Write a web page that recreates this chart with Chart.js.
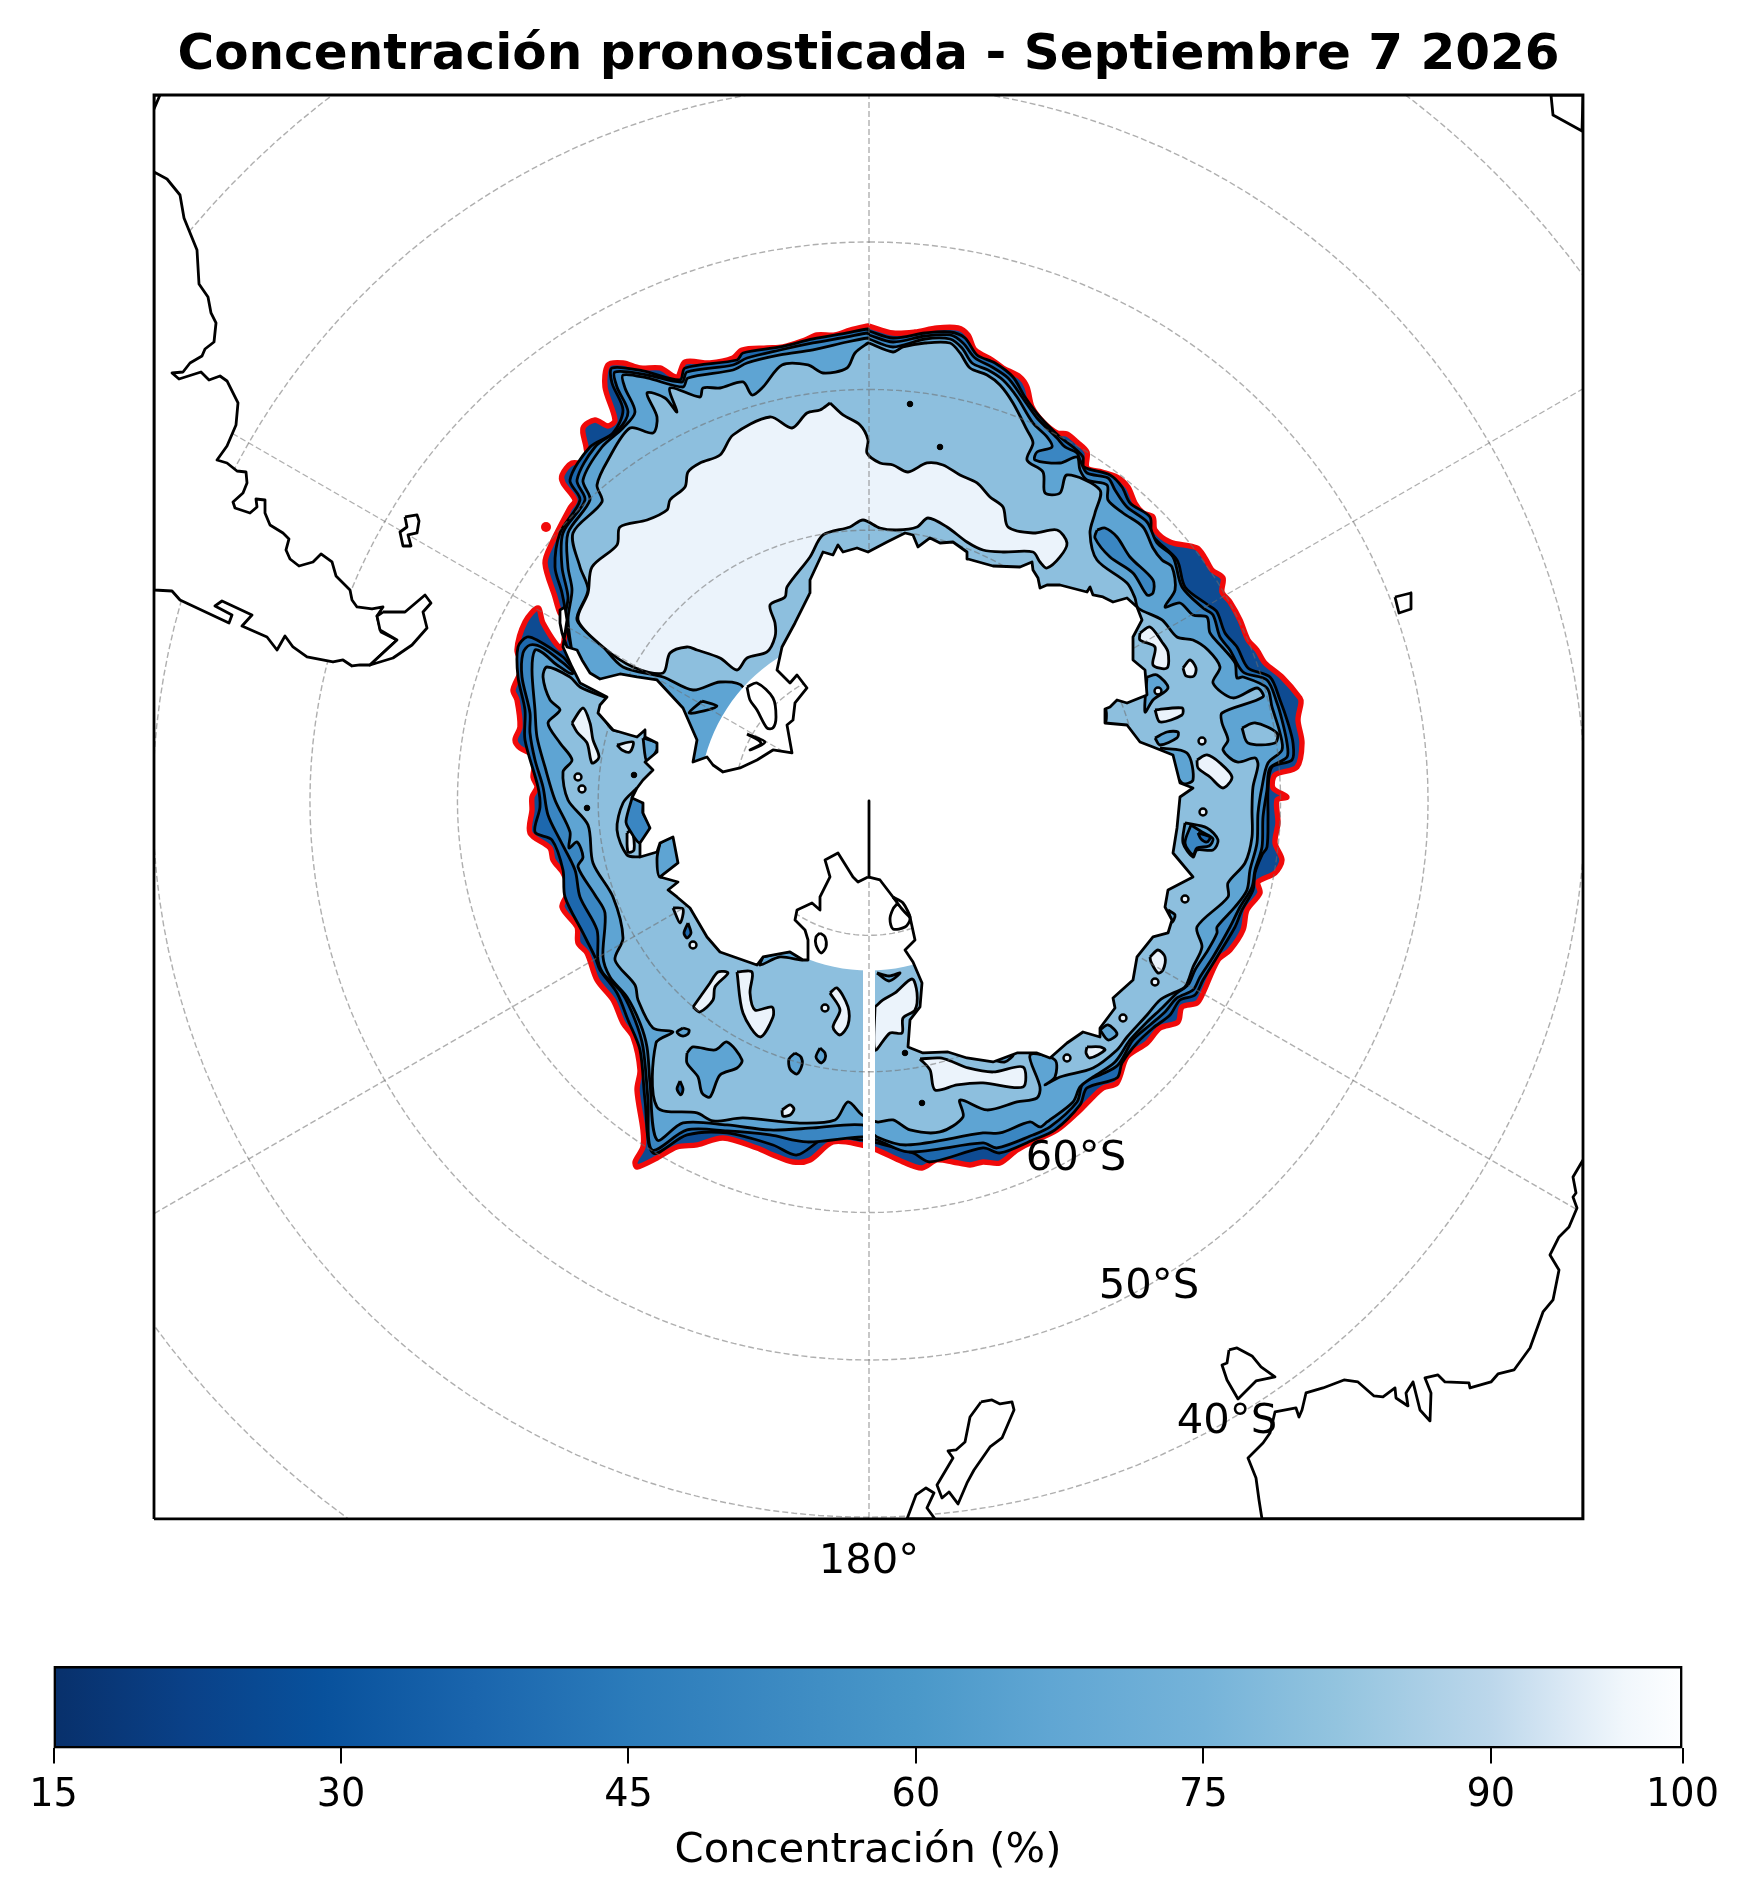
<!DOCTYPE html>
<html>
<head>
<meta charset="utf-8">
<title>Concentración pronosticada</title>
<script src="https://cdn.jsdelivr.net/npm/chart.js@4"></script>
<style>
body { margin: 0; background: #fff; }
canvas { position: absolute; left: 0; }
#mapChart { top: 0; }
#barChart { top: 1640px; }
</style>
</head>
<body>
<canvas id="mapChart" width="1747" height="1640"></canvas>
<canvas id="barChart" width="1747" height="261"></canvas>
<script>
// map units: pole at 0,0 , polar stereographic, x right, y up
var mapX = [-715, 714];
var mapY = [-718, 706];
var gridLats = [30, 40, 50, 60, 70, 80];
var gridLons = [0, 60, 120, 180, 240, 300];
var noDataLat = 77.4;
var latLabels = ["60°S", "50°S", "40°S"];
var latLabelX = [207, 280, 358];
var latLabelY = [-358, -486, -621];
var bottomLabel = "180°";

var cbTicks = [15, 30, 45, 60, 75, 90, 100];
var cbStops = [15, 22, 29, 37, 45, 52, 60, 67, 75, 82, 90, 94, 97, 100];
var cbColors = ["#08306b", "#0a4188", "#08519c", "#1a65ad", "#2b7bba", "#3a88c1", "#4a98c9", "#60a6d3", "#75b3d9", "#93c4df", "#bcd7eb", "#dbe9f5", "#f1f7fc", "#fdfeff"];

// ice edge, 15 %
var ice15 = [[0,475],[24,468],[46,469],[68,473],[89,473],[99,466],[106,451],[123,441],[134,433],[151,424],[158,414],[163,394],[174,379],[188,368],[198,367],[208,359],[218,349],[218,333],[233,329],[248,324],[259,314],[266,298],[274,288],[284,284],[286,271],[301,259],[328,253],[336,243],[343,231],[354,223],[353,209],[361,199],[371,181],[379,161],[388,151],[396,138],[413,124],[431,103],[432,98],[429,81],[433,58],[428,34],[406,26],[404,13],[418,4],[408,1],[409,-22],[406,-42],[413,-59],[406,-72],[389,-81],[391,-92],[378,-109],[374,-129],[361,-149],[349,-159],[334,-192],[328,-202],[313,-206],[309,-221],[291,-227],[278,-242],[258,-256],[248,-282],[234,-287],[221,-299],[208,-312],[188,-329],[161,-342],[148,-349],[131,-362],[114,-361],[101,-364],[84,-361],[68,-359],[53,-367],[34,-361],[8,-349],[-7,-344],[-36,-341],[-59,-359],[-76,-361],[-96,-354],[-112,-347],[-146,-337],[-172,-344],[-192,-346],[-212,-357],[-232,-366],[-234,-361],[-226,-346],[-226,-329],[-232,-289],[-229,-269],[-236,-236],[-246,-222],[-256,-199],[-272,-179],[-282,-152],[-291,-142],[-292,-126],[-307,-106],[-300,-89],[-306,-72],[-316,-59],[-319,-47],[-339,-32],[-337,-9],[-337,4],[-332,14],[-336,24],[-334,44],[-349,53],[-354,61],[-349,74],[-352,101],[-356,111],[-347,134],[-352,151],[-344,179],[-331,193],[-326,178],[-309,153],[-305,160],[-305,185],[-309,188],[-314,204],[-324,238],[-317,258],[-299,293],[-294,301],[-306,318],[-307,326],[-297,338],[-282,338],[-283,354],[-286,373],[-274,381],[-261,375],[-254,381],[-264,414],[-261,436],[-246,438],[-229,433],[-209,433],[-192,424],[-184,439],[-159,438],[-136,443],[-127,451],[-102,453],[-86,454],[-64,461],[-52,466],[-34,466],[-19,471],[-1,475]];
var ice30 = [[0,470],[24,463],[56,468],[81,469],[96,463],[108,446],[126,438],[144,424],[156,404],[171,384],[191,364],[204,354],[214,344],[215,334],[241,326],[253,314],[261,298],[281,284],[283,266],[308,241],[316,214],[339,196],[348,189],[356,168],[368,154],[379,133],[401,124],[411,101],[419,78],[424,58],[423,41],[403,34],[399,11],[399,-16],[398,-46],[393,-54],[386,-72],[384,-89],[373,-109],[366,-126],[348,-156],[334,-179],[326,-194],[311,-199],[301,-214],[284,-227],[268,-242],[253,-262],[248,-277],[218,-287],[211,-304],[186,-329],[164,-339],[131,-352],[114,-347],[61,-361],[44,-352],[8,-342],[-7,-339],[-42,-336],[-72,-354],[-96,-344],[-142,-332],[-182,-334],[-216,-352],[-224,-299],[-229,-249],[-241,-219],[-252,-192],[-269,-169],[-274,-156],[-286,-132],[-304,-96],[-306,-69],[-317,-39],[-334,-31],[-329,-6],[-331,14],[-344,61],[-344,91],[-351,124],[-351,154],[-342,164],[-332,161],[-306,144],[-294,131],[-300,170],[-307,208],[-314,234],[-309,268],[-289,301],[-299,321],[-279,354],[-256,368],[-246,391],[-257,418],[-257,433],[-226,430],[-189,421],[-184,433],[-132,441],[-126,448],[-89,454],[-56,462],[-22,468],[-1,472]];
var ice45 = [[0,466],[24,459],[56,465],[81,466],[94,458],[106,443],[123,434],[139,423],[153,404],[168,383],[188,363],[196,354],[208,348],[211,341],[218,328],[239,323],[246,311],[258,294],[278,279],[288,258],[304,244],[313,214],[334,193],[344,186],[351,164],[361,151],[374,129],[398,121],[408,98],[413,81],[418,58],[418,44],[401,33],[398,11],[394,-16],[393,-46],[386,-69],[383,-86],[371,-106],[361,-126],[344,-156],[331,-176],[324,-189],[308,-197],[296,-211],[281,-224],[264,-239],[249,-264],[231,-274],[214,-282],[208,-301],[181,-326],[164,-334],[128,-347],[114,-342],[39,-351],[8,-339],[-7,-336],[-62,-341],[-99,-334],[-142,-330],[-182,-329],[-217,-349],[-221,-299],[-226,-246],[-234,-219],[-247,-192],[-266,-172],[-271,-159],[-272,-129],[-289,-96],[-294,-69],[-309,-39],[-321,-14],[-326,14],[-334,41],[-339,68],[-339,88],[-347,124],[-346,148],[-339,156],[-326,153],[-306,138],[-292,128],[-304,181],[-301,204],[-307,234],[-306,268],[-284,301],[-292,321],[-274,354],[-251,371],[-241,389],[-252,414],[-254,429],[-222,426],[-187,419],[-182,429],[-136,436],[-122,443],[-89,451],[-56,458],[-22,464],[-1,468]];
var ice60 = [[0,462],[24,454],[56,462],[81,462],[93,453],[103,438],[119,431],[134,421],[148,404],[164,378],[178,364],[183,354],[168,349],[166,341],[191,338],[208,344],[211,331],[218,321],[238,316],[239,301],[254,288],[274,274],[284,253],[293,241],[303,234],[306,211],[296,194],[311,198],[324,186],[338,184],[341,168],[353,154],[366,138],[368,123],[374,124],[398,113],[403,94],[411,68],[413,51],[399,38],[393,14],[389,-12],[388,-42],[381,-69],[378,-89],[366,-106],[348,-126],[348,-132],[339,-149],[326,-169],[319,-184],[308,-192],[293,-207],[278,-221],[261,-239],[246,-261],[224,-276],[211,-286],[204,-301],[178,-321],[171,-326],[161,-321],[131,-332],[114,-332],[38,-344],[8,-336],[-7,-324],[-56,-327],[-99,-329],[-142,-324],[-186,-322],[-212,-339],[-219,-282],[-222,-246],[-229,-222],[-242,-196],[-259,-176],[-266,-156],[-264,-112],[-274,-94],[-291,-66],[-286,-56],[-292,-41],[-300,-47],[-299,-31],[-314,1],[-324,34],[-332,64],[-334,91],[-337,131],[-334,151],[-326,148],[-312,136],[-296,128],[-301,181],[-297,211],[-301,234],[-301,268],[-279,301],[-286,321],[-267,354],[-246,373],[-234,389],[-244,413],[-246,426],[-222,423],[-186,414],[-181,423],[-136,431],[-122,438],[-89,446],[-56,451],[-22,459],[-1,463]];
var ice75 = [[0,458],[24,449],[34,454],[56,458],[81,458],[91,448],[101,433],[118,426],[131,416],[144,398],[158,371],[164,358],[158,341],[174,329],[176,308],[191,308],[198,326],[231,311],[226,288],[221,268],[228,241],[258,218],[266,203],[269,193],[293,181],[308,164],[324,161],[339,151],[351,134],[344,118],[364,103],[388,113],[394,104],[353,88],[353,78],[359,61],[354,51],[368,39],[386,43],[389,36],[384,14],[383,-9],[383,-36],[376,-62],[359,-82],[359,-96],[328,-126],[333,-146],[324,-166],[316,-186],[304,-192],[291,-199],[278,-214],[258,-236],[248,-249],[224,-267],[191,-276],[176,-284],[186,-276],[186,-259],[161,-254],[171,-286],[168,-297],[148,-301],[118,-309],[91,-299],[94,-316],[71,-331],[41,-329],[24,-319],[8,-321],[-7,-314],[-21,-301],[-34,-319],[-72,-322],[-126,-317],[-156,-320],[-172,-312],[-212,-306],[-213,-242],[-196,-231],[-216,-227],[-231,-199],[-234,-184],[-254,-159],[-246,-137],[-256,-96],[-276,-62],[-281,-24],[-301,1],[-306,29],[-297,41],[-309,58],[-321,78],[-309,91],[-319,101],[-326,124],[-322,134],[-299,124],[-289,114],[-262,103],[-240,95],[-200,70],[-178,30],[-130,30],[-110,60],[-126,114],[-149,119],[-176,111],[-206,124],[-246,134],[-269,158],[-292,181],[-281,211],[-289,234],[-296,268],[-267,299],[-272,316],[-261,341],[-239,373],[-216,368],[-212,384],[-222,408],[-204,403],[-192,389],[-199,413],[-169,404],[-166,413],[-149,413],[-126,419],[-117,406],[-106,414],[-87,436],[-61,436],[-46,428],[-22,433],[-14,448],[-1,458]];
var ice90 = [[-39,398],[-26,386],[-9,376],[-1,361],[-2,348],[11,338],[24,336],[39,329],[58,338],[74,336],[91,326],[108,318],[121,304],[134,294],[139,274],[164,268],[188,271],[198,258],[191,244],[178,233],[171,239],[164,249],[134,249],[114,251],[98,259],[78,274],[59,283],[48,274],[28,271],[11,273],[-6,281],[-19,274],[-46,266],[-59,244],[-82,214],[-84,204],[-99,196],[-94,178],[-94,164],[-102,149],[-122,143],[-132,131],[-149,143],[-172,151],[-182,154],[-199,148],[-206,128],[-236,134],[-266,154],[-291,181],[-281,208],[-277,234],[-252,256],[-249,274],[-222,281],[-202,291],[-199,301],[-184,314],[-181,329],[-169,338],[-149,346],[-136,366],[-99,384],[-77,373],[-62,388],[-49,391],[-39,398]];

// closed patches inside the bands
var high1 = [[271,168],[281,174],[293,159],[299,149],[298,133],[284,136],[286,154],[271,161]];
var high2 = [[286,91],[313,93],[313,86],[291,79]];
var high3 = [[328,41],[338,46],[351,38],[363,24],[354,13],[341,24],[329,33]];
var high4 = [[281,-156],[289,-149],[296,-156],[294,-169],[289,-172],[282,-161]];
var high5 = [[218,-246],[231,-246],[236,-249],[221,-257],[217,-252]];
var high6 = [[51,-258],[71,-257],[84,-261],[99,-267],[124,-271],[154,-266],[154,-286],[114,-282],[88,-284],[66,-289],[61,-269]];
var high7 = [[-297,78],[-286,93],[-279,78],[-276,61],[-270,44],[-277,38],[-282,58],[-292,69]];
var high8 = [[-252,56],[-236,59],[-239,49],[-247,51]];
var high9 = [[-242,-32],[-237,-29],[-235,-49],[-241,-51]];
var high10 = [[-176,-206],[-159,-182],[-151,-171],[-141,-172],[-154,-186],[-156,-199],[-169,-211]];
var high11 = [[-132,-171],[-117,-171],[-119,-192],[-114,-209],[-97,-206],[-96,-216],[-109,-236],[-126,-212]];
var high12 = [[-39,-192],[-32,-187],[-21,-206],[-21,-224],[-29,-234],[-36,-226],[-29,-209]];
var high13 = [[6,-206],[14,-199],[26,-192],[43,-178],[48,-192],[46,-209],[34,-217],[33,-232],[21,-232],[6,-249]];
var high14 = [[-196,-107],[-186,-108],[-189,-122]];
var high15 = [[-87,-309],[-79,-304],[-75,-308],[-79,-314],[-86,-315]];
var high16 = [[314,133],[321,141],[327,133],[325,125],[317,125]];
var light1 = [[373,73],[386,78],[408,68],[406,58],[379,58]];
var mid1 = [[286,63],[298,69],[309,69],[308,63],[291,56]];
var mid2 = [[278,124],[288,126],[299,113],[284,101],[276,89]];
var mid3 = [[291,53],[318,48],[324,21],[313,18]];
var mid4 = [[316,-22],[338,-27],[349,-39],[344,-49],[328,-49],[324,-56],[314,-42]];
var mid5 = [[299,-109],[306,-114],[303,-121]];
var mid6 = [[231,-229],[239,-224],[248,-233],[239,-239]];
var mid7 = [[-106,-156],[-79,-151],[-67,-159],[-89,-156],[-109,-164]];
var mid8 = [[-209,-42],[-196,-36],[-191,-62],[-209,-76],[-212,-58]];
var mid9 = [[-269,91],[-243,71],[-256,71],[-264,81]];
var mid10 = [[-226,63],[-212,58],[-212,51],[-222,39]];
var mid11 = [[-182,-252],[-176,-246],[-154,-249],[-142,-241],[-127,-259],[-132,-267],[-149,-274],[-159,-296],[-167,-292],[-171,-276],[-182,-262]];
var mid12 = [[-74,-252],[-68,-256],[-67,-264],[-72,-273],[-79,-268],[-80,-258]];
var mid13 = [[-49,-247],[-44,-252],[-44,-258],[-48,-262],[-53,-256]];
var mid14 = [[-186,-227],[-180,-229],[-181,-233],[-187,-235],[-192,-231]];
var mid15 = [[124,-259],[144,-254],[136,-261]];
var mid16 = [[-167,100],[-152,95],[-165,90],[-180,88]];
var mid17 = [[8,-172],[20,-175],[31,-172],[20,-180]];
var mid18 = [[224,88],[236,93],[236,77],[226,78]];
var deep1 = [[228,271],[236,273],[248,264],[261,244],[284,221],[284,208],[278,206],[264,228],[241,244],[226,263]];
var deep2 = [[322,-24],[333,-31],[344,-38],[340,-45],[328,-47],[324,-54],[316,-42]];
var deep3 = [[-236,6],[-226,-2],[-226,-12],[-219,-27],[-229,-42],[-240,-28],[-243,-20]];
var dark1 = [[329,-32],[341,-36],[338,-41],[332,-38]];
var dark2 = [[-181,-122],[-178,-132],[-182,-137],[-185,-132]];
var dark3 = [[-189,-280],[-186,-288],[-188,-294],[-192,-288]];
var contourOnly = [[-232,13],[-246,-2],[-252,-29],[-242,-54],[-229,-56]];

// small closed contours too small to trace
var smallHighX = [-291, -287, -176, 333, 334, 316, 286, 254, 289, -44, 198];
var smallHighY = [24, 12, -144, 60, -11, -98, -181, -217, 110, -207, -257];
var dotX = [41, 71, -235, -282, 53, 36];
var dotY = [397, 354, 26, -7, -302, -252];
var strayEdgeX = [-323];
var strayEdgeY = [274];

// land outlines
var continent = [[-1,-76],[11,-79],[24,-96],[41,-116],[46,-139],[36,-149],[44,-161],[53,-182],[51,-206],[41,-219],[39,-246],[54,-252],[79,-251],[98,-257],[124,-261],[148,-252],[168,-252],[181,-257],[198,-242],[214,-231],[231,-236],[231,-227],[246,-207],[244,-197],[264,-179],[268,-156],[284,-136],[299,-132],[303,-119],[296,-106],[299,-89],[324,-76],[304,-52],[308,-27],[311,4],[324,13],[311,18],[304,46],[284,54],[271,59],[258,76],[236,78],[236,92],[241,94],[248,101],[258,98],[278,106],[276,131],[264,141],[264,164],[273,181],[268,194],[258,203],[244,199],[234,204],[224,206],[221,214],[218,209],[191,216],[178,216],[171,213],[169,223],[164,231],[163,239],[151,234],[124,235],[99,242],[98,249],[84,259],[71,258],[61,263],[49,254],[44,266],[36,268],[18,259],[-1,249],[-12,253],[-26,249],[-31,256],[-36,246],[-46,249],[-59,221],[-59,208],[-74,178],[-87,154],[-92,131],[-79,118],[-72,126],[-62,113],[-74,98],[-76,81],[-82,76],[-77,48],[-96,51],[-112,41],[-129,33],[-146,29],[-156,36],[-162,44],[-176,39],[-172,61],[-186,93],[-212,121],[-232,124],[-249,127],[-269,122],[-279,128],[-287,141],[-292,151],[-302,154],[-307,168],[-309,178],[-309,191],[-304,194],[-302,181],[-306,154],[-297,134],[-289,118],[-262,104],[-269,96],[-271,88],[-256,71],[-239,66],[-232,64],[-224,71],[-224,64],[-212,58],[-212,49],[-224,39],[-216,31],[-226,21],[-232,13],[-237,3],[-226,-2],[-226,-12],[-219,-27],[-229,-42],[-229,-56],[-212,-51],[-209,-42],[-196,-36],[-191,-62],[-209,-76],[-191,-81],[-201,-89],[-192,-96],[-179,-107],[-162,-136],[-149,-151],[-112,-164],[-106,-156],[-79,-151],[-66,-159],[-61,-159],[-61,-139],[-64,-129],[-74,-119],[-72,-109],[-57,-102],[-49,-109],[-49,-96],[-39,-76],[-44,-59],[-31,-52],[-16,-76],[-11,-81],[-1,-76]];
var poleLine = [[0,0],[0,-76]];
var shelfIsle1 = [[-122,114],[-112,118],[-96,103],[-93,84],[-96,73],[-102,73],[-112,91],[-119,101]];
var shelfIsle2 = [[-122,67],[-104,59],[-119,51],[-108,58]];
var shelfIsle3 = [[-49,-132],[-44,-136],[-43,-146],[-48,-152],[-53,-144],[-53,-136]];
var shelfIsle4 = [[28,-103],[36,-108],[41,-118],[36,-126],[24,-128],[21,-118],[24,-108]];
var shelfIsle5 = [[24,-96],[34,-102],[41,-116],[33,-108]];
var southAmerica = [[-715,629],[-702,622],[-689,606],[-685,583],[-672,551],[-670,517],[-661,504],[-658,488],[-653,478],[-655,459],[-664,452],[-667,445],[-679,438],[-686,429],[-697,428],[-690,422],[-668,429],[-660,421],[-649,425],[-642,420],[-631,398],[-633,376],[-642,355],[-652,341],[-642,338],[-632,330],[-623,329],[-622,318],[-626,308],[-636,299],[-634,293],[-619,288],[-612,294],[-613,302],[-604,301],[-604,288],[-599,276],[-586,268],[-580,262],[-583,251],[-579,242],[-570,235],[-556,239],[-548,247],[-537,239],[-533,225],[-519,211],[-517,201],[-512,194],[-497,192],[-486,194],[-492,185],[-488,169],[-472,161],[-482,152],[-499,136],[-509,136],[-517,135],[-526,141],[-536,139],[-562,144],[-576,154],[-584,165],[-592,151],[-602,164],[-627,175],[-617,186],[-647,200],[-654,195],[-637,186],[-640,178],[-689,201],[-697,210],[-715,211],[-715,629]];
var fireland = [[-486,189],[-464,189],[-444,206],[-438,198],[-446,189],[-442,173],[-457,156],[-476,143],[-499,136],[-472,161],[-489,171],[-492,185]];
var isleWest = [[-464,284],[-452,286],[-450,280],[-452,268],[-461,266],[-458,255],[-466,255],[-469,269],[-462,274]];
var cornerNW = [[-715,706],[-709,706],[-715,692]];
var cornerNE = [[682,706],[684,686],[713,670],[714,706]];
var isleEast = [[526,204],[542,208],[542,192],[530,188]];
var australia = [[714,-359],[704,-376],[707,-392],[704,-396],[708,-407],[700,-426],[690,-436],[681,-454],[690,-469],[684,-499],[674,-511],[661,-547],[645,-569],[629,-573],[622,-581],[601,-587],[600,-582],[576,-581],[569,-574],[556,-577],[562,-592],[561,-620],[551,-609],[544,-581],[537,-592],[539,-605],[527,-597],[526,-587],[514,-596],[505,-595],[489,-581],[475,-579],[454,-587],[437,-592],[433,-609],[430,-616],[427,-607],[406,-611],[401,-632],[394,-642],[379,-657],[387,-677],[390,-699],[393,-718],[714,-718],[714,-359]];
var tasmania = [[360,-549],[368,-547],[383,-555],[392,-566],[406,-576],[387,-580],[369,-598],[358,-579],[353,-564],[358,-562]];
var nzSouth = [[112,-601],[123,-599],[131,-603],[143,-601],[145,-609],[133,-637],[121,-646],[105,-669],[98,-682],[89,-703],[80,-691],[73,-697],[68,-684],[84,-657],[79,-650],[87,-649],[96,-641],[101,-616]];
var nzNorth = [[38,-718],[47,-694],[57,-687],[65,-692],[58,-707],[66,-718]];
var seamGap = [[-6,-165],[6,-165],[6,-355],[-6,-355]];

var STEREO_K = 1536;
var BAND_15 = "#0e4b92", BAND_30 = "#1d68ae", BAND_45 = "#3a86c2", BAND_60 = "#5ea4d3", BAND_75 = "#8dbfde", BAND_90 = "#ebf3fb";
var ICE_TENSION = 0.3;

function project(lat, lon) {
    var r = STEREO_K * Math.tan((90 - lat) * Math.PI / 360);
    var a = lon * Math.PI / 180;
    return {x: r * Math.sin(a), y: r * Math.cos(a)};
}
function toXY(list) {
    return list.map(function (p) { return {x: p[0], y: p[1]}; });
}
function zipXY(xs, ys) {
    return xs.map(function (x, i) { return {x: x, y: ys[i]}; });
}

var datasets = [];
function addPoly(points, fillColor, lineColor, width, tension) {
    var pts = toXY(points);
    pts.push(pts[0]);
    datasets.push({
        data: pts, showLine: true, pointRadius: 0, tension: tension || 0,
        fill: fillColor ? "shape" : false,
        backgroundColor: fillColor || "transparent",
        borderColor: lineColor || "transparent",
        borderWidth: lineColor ? (width || 2.8) : 0,
        borderJoinStyle: "round"
    });
}
function addLine(points, color, width, dash, tension) {
    datasets.push({
        data: points, showLine: true, pointRadius: 0, tension: tension || 0, fill: false,
        borderColor: color, borderWidth: width, borderDash: dash || [], borderJoinStyle: "round"
    });
}
function addMarks(points, fillColor, radius, lineColor, width) {
    datasets.push({
        data: points, showLine: false, pointRadius: radius,
        pointBackgroundColor: fillColor, pointBorderColor: lineColor,
        pointBorderWidth: width
    });
}

// ice bands, outermost first
addPoly(ice15, BAND_15, "#f00a0a", 5.4, ICE_TENSION);
addMarks(zipXY(strayEdgeX, strayEdgeY), "#f00a0a", 5, "#f00a0a", 0);
addPoly(ice30, BAND_30, "#000", 2.8, ICE_TENSION);
addPoly(ice45, BAND_45, "#000", 2.8, ICE_TENSION);
addPoly(ice60, BAND_60, "#000", 2.8, ICE_TENSION);
addPoly(ice75, BAND_75, "#000", 2.8, ICE_TENSION);
addPoly(ice90, BAND_90, "#000", 2.8, ICE_TENSION);
[high1, high2, high3, high4, high5, high6, high7, high8, high9, high10, high11, high12, high13, high14, high15, high16].forEach(function (p) {
    addPoly(p, BAND_90, "#000", 2.8, ICE_TENSION);
});
addPoly(light1, BAND_75, "#000", 2.8, ICE_TENSION);
[mid1, mid2, mid3, mid4, mid5, mid6, mid7, mid8, mid9, mid10, mid11, mid12, mid13, mid14, mid15, mid16, mid17, mid18].forEach(function (p) {
    addPoly(p, BAND_60, "#000", 2.8, ICE_TENSION);
});
[deep1, deep2, deep3].forEach(function (p) { addPoly(p, BAND_45, "#000", 2.8, ICE_TENSION); });
[dark1, dark2, dark3].forEach(function (p) { addPoly(p, BAND_30, "#000", 2.8, ICE_TENSION); });
addLine(toXY(contourOnly), "#000", 2.8, [], ICE_TENSION);
addMarks(zipXY(smallHighX, smallHighY), BAND_90, 3.5, "#000", 2.4);
addMarks(zipXY(dotX, dotY), "#000", 2.8, "#000", 1);

// no data near the pole and along the seam
var holePts = [];
for (var h = 0; h <= 360; h += 3) holePts.push(project(noDataLat, h));
datasets.push({data: holePts, showLine: true, pointRadius: 0, fill: "shape", backgroundColor: "#fff", borderWidth: 0, borderColor: "#fff"});
addPoly(seamGap, "#fff");

// gridlines
gridLats.forEach(function (lat) {
    var pts = [];
    for (var lon = 0; lon <= 360; lon += 2) pts.push(project(lat, lon));
    addLine(pts, "rgba(110,110,110,0.55)", 1.4, [6, 3]);
});
gridLons.forEach(function (lon) {
    addLine([project(90, lon), project(10, lon)], "rgba(110,110,110,0.55)", 1.4, [6, 3]);
});

// land on top
[southAmerica, fireland, isleWest, cornerNW, cornerNE, isleEast, australia, tasmania, nzSouth, nzNorth, continent].forEach(function (p) {
    addPoly(p, "#fff", "#000", 2.8);
});
[shelfIsle1, shelfIsle2, shelfIsle3, shelfIsle4, shelfIsle5].forEach(function (p) {
    addPoly(p, "#fff", "#000", 2.8, ICE_TENSION);
});
addLine(toXY(poleLine), "#000", 2.8);

// axes frame
var framePts = [[mapX[0], mapY[0]], [mapX[1], mapY[0]], [mapX[1], mapY[1]], [mapX[0], mapY[1]], [mapX[0], mapY[0]]];
datasets.push({data: toXY(framePts), showLine: true, pointRadius: 0, fill: false, borderColor: "#000", borderWidth: 2.8, clip: false});

// chart.js paints lower order on top
datasets.forEach(function (d, i) { d.order = datasets.length - i; });

var latLabelPlugin = {
    id: "latLabelPlugin",
    afterDatasetsDraw: function (chart) {
        var ctx = chart.ctx;
        ctx.save();
        ctx.font = "41.7px 'DejaVu Sans'";
        ctx.fillStyle = "#000";
        ctx.textAlign = "center";
        ctx.textBaseline = "middle";
        latLabels.forEach(function (t, i) {
            ctx.fillText(t, chart.scales.x.getPixelForValue(latLabelX[i]), chart.scales.y.getPixelForValue(latLabelY[i]));
        });
        ctx.restore();
    }
};

new Chart(document.getElementById("mapChart"), {
    type: "scatter",
    data: {datasets: datasets},
    plugins: [latLabelPlugin],
    options: {
        responsive: false,
        animation: false,
        devicePixelRatio: 1,
        events: [],
        layout: {padding: {left: 154, right: 164, top: 0, bottom: 43}},
        plugins: {
            legend: {display: false},
            tooltip: {enabled: false},
            title: {
                display: true,
                text: "Concentración pronosticada - Septiembre 7 2026",
                color: "#000",
                font: {family: "'DejaVu Sans'", size: 50, weight: "bold", lineHeight: 1.2},
                padding: {top: 26, bottom: 9}
            }
        },
        scales: {
            x: {
                type: "linear", min: mapX[0], max: mapX[1],
                grid: {display: false},
                border: {display: false},
                afterBuildTicks: function (axis) { axis.ticks = [{value: 0}]; },
                ticks: {
                    color: "#000", padding: 10, autoSkip: false, maxRotation: 0,
                    font: {family: "'DejaVu Sans'", size: 41.7, lineHeight: 1.2},
                    callback: function () { return bottomLabel; }
                }
            },
            y: {type: "linear", min: mapY[0], max: mapY[1], display: false}
        }
    }
});

// colour bar
new Chart(document.getElementById("barChart"), {
    type: "bar",
    data: {
        labels: [""],
        datasets: [{
            data: [[cbTicks[0], cbTicks[cbTicks.length - 1]]],
            barPercentage: 1,
            categoryPercentage: 1,
            borderColor: "#000",
            borderWidth: 2.8,
            borderSkipped: false,
            backgroundColor: function (context) {
                var area = context.chart.chartArea;
                if (!area) return "#4a98c9";
                var g = context.chart.ctx.createLinearGradient(area.left, 0, area.right, 0);
                cbStops.forEach(function (v, i) { g.addColorStop((v - 15) / 85, cbColors[i]); });
                return g;
            }
        }]
    },
    options: {
        indexAxis: "y",
        responsive: false,
        animation: false,
        devicePixelRatio: 1,
        events: [],
        layout: {padding: {left: 53.5, right: 64.5, top: 26, bottom: 25}},
        plugins: {
            legend: {display: false},
            tooltip: {enabled: false},
            title: {
                display: true, position: "bottom", text: "Concentración (%)", color: "#000",
                font: {family: "'DejaVu Sans'", size: 41.7, weight: "normal", lineHeight: 1.2},
                padding: {top: -2.3, bottom: 0}
            }
        },
        scales: {
            x: {
                type: "linear", min: 15, max: 100,
                afterBuildTicks: function (axis) {
                    axis.ticks = cbTicks.map(function (v) { return {value: v}; });
                },
                grid: {drawOnChartArea: false, drawTicks: true, tickLength: 15, color: "#000", lineWidth: 2},
                border: {display: false},
                ticks: {color: "#000", padding: 13.3, autoSkip: false, maxRotation: 0, font: {family: "'DejaVu Sans'", size: 38.2, lineHeight: 1}}
            },
            y: {display: false}
        }
    }
});
</script>
</body>
</html>
